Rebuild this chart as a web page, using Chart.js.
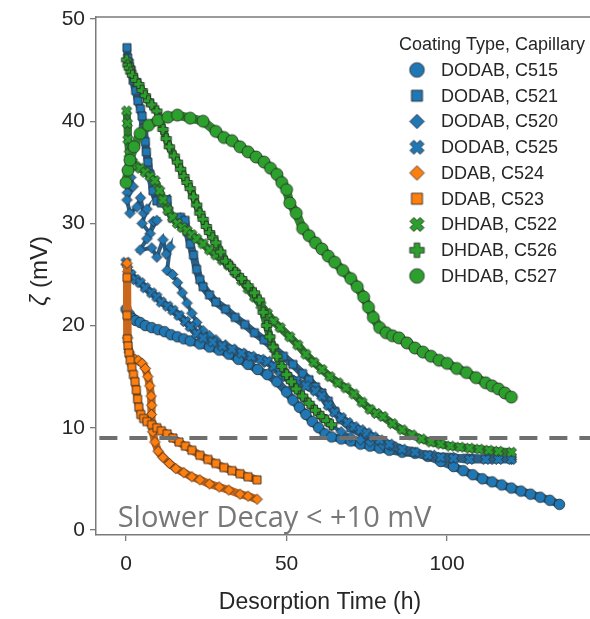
<!DOCTYPE html>
<html>
<head>
<meta charset="utf-8">
<script src="https://cdn.jsdelivr.net/npm/chart.js@4.4.1/dist/chart.umd.min.js"></script>
<style>
  html, body { margin: 0; padding: 0; background: #fff; }
  canvas { display: block; }
</style>
</head>
<body>
<canvas id="graficoZeta" width="590" height="619"></canvas>
<script>
// ========== DATOS (tiempo h, zeta mV) ==========
const etiquetas = [
  "DODAB, C515", "DODAB, C521", "DODAB, C520", "DODAB, C525",
  "DDAB, C524", "DDAB, C523", "DHDAB, C522", "DHDAB, C526", "DHDAB, C527"
];

const c515 = [[0,21.6],[1,21.1],[2,20.7],[3,20.5],[4.4,20.3],[6,20],[8,19.8],[10,19.6],[12,19.4],[14,19.1],[16,18.9],[18,18.7],[20,18.5],[23,18.2],[26,17.9],[29,17.6],[32,17.2],[35,16.7],[38,16.2],[41,15.7],[44,15.2],[47,14.5],[50,13.5],[52,12.7],[54,12],[56,11.3],[58,10.6],[60,10],[62,9.4],[64,9.1],[67,8.9],[70,8.7],[73,8.4],[76,8.2],[79,8],[82,7.8],[86,7.6],[90,7.5],[94,7.2],[98,6.7],[102,6.2],[105,5.8],[108,5.4],[111,5],[114,4.7],[117,4.4],[120,4.1],[123,3.8],[126,3.5],[129,3.2],[132,2.9],[135,2.5]];

const c521 = [[0.3,47.2],[0.5,46.2],[1,45.7],[1.6,45],[2.2,44],[3,43],[3.7,42],[4.5,41.2],[5,40.5],[5.5,39.3],[6,38],[6.3,37],[6.8,36],[7.5,34.8],[8.4,33.2],[9.6,32.2],[11,32],[12.8,32.3],[13.3,31.2],[14.5,30.5],[15.9,30.3],[17,30.6],[18.4,30.3],[19,29.2],[20,28],[21,26.9],[22,25.5],[23,24.5],[24,23.8],[26,23],[28,22.3],[31,21.6],[34,20.8],[37,20.1],[40,19.3],[43,18.6],[46,17.8],[49,17],[52,16.2],[55,15.3],[57,14.7],[59,14],[61,13.4],[63,12.6],[65,11.6],[67,10.8],[70,10],[74,9.3],[78,8.8],[83,8.2],[88,7.7],[94,7.3],[100,7.1],[106,7],[113,7],[120,7]];

const c520 = [[0,34.2],[0.4,33],[1.5,34.5],[2.2,33.6],[0.3,32.3],[1.2,31],[3.4,31.6],[4.5,32.5],[5.5,31],[6.5,31.4],[5,30],[7.5,29],[8.5,30.2],[9.6,30.3],[6.5,28.5],[4.4,27.4],[8,27.6],[9.6,26.7],[11.5,28.4],[12.5,27],[13.7,27.7],[12.8,25.4],[14.5,25],[16,24.2],[17.5,23.2],[19,22.2],[20.5,21.2],[22,20.3],[24,19.5],[26,19],[28,18.6],[31,18.1],[34,17.6],[37,17.2],[40,16.8],[43,16.4],[46,15.8],[49,15],[52,14],[55,13],[58,12],[61,11],[64,10.2],[67,9.6],[70,9.1],[73,8.8],[76,8.6],[80,8.3],[85,7.9],[90,7.6],[96,7.3],[102,7.1],[108,7],[114,6.9],[120,6.9]];

const c525 = [[0,26.2],[0.5,25.5],[1.5,25],[3,24.5],[4.4,24.2],[6,23.7],[8,23.2],[9.6,22.8],[11,22.3],[13,21.9],[14.6,21.5],[16.5,21],[18.5,20.4],[20,19.9],[22,19.2],[24,18.8],[27,18.4],[30,18],[33,17.7],[36,17.3],[39,17],[42,16.7],[44,16.5],[46,16],[48,15.5],[50,15.1],[53,14.6],[56,14.1],[59,13.6],[61,13.1],[63,12.2],[65,11.5],[67,11],[69,10.5],[71,10.1],[73,9.8],[75,9.5],[77,9.1],[79,8.8],[82,8.4],[86,7.9],[90,7.6],[94,7.3],[98,7.1],[102,7],[107,6.9],[112,6.9],[116,6.9],[120,6.9]];

const c524 = [[0.3,26.1],[0.5,18.8],[1,17.4],[1.8,16.9],[2.8,16.7],[3.8,16.6],[5,16.3],[6,15.8],[6.8,15],[7.4,14.1],[7.8,13.1],[8,12.2],[7.9,11.3],[8,10.4],[8.3,9.6],[9,8.6],[10,7.7],[11.5,7.1],[13.5,6.5],[15.5,6],[18,5.6],[20.5,5.2],[23,4.9],[26,4.5],[29,4.2],[32,3.9],[35.5,3.5],[38,3.3],[40.8,3]];

const c523 = [[0.3,24.7],[0.3,21],[0.4,18.7],[0.6,18],[0.9,17.3],[1.3,16.6],[1.8,15.9],[2.3,15.2],[2.8,14.5],[3.2,13.7],[3.6,12.8],[4,12],[4.6,11.3],[5.5,10.9],[6.5,10.6],[8,10.3],[9.6,10],[11,9.7],[12.8,9.4],[14.6,9],[16.5,8.6],[18.5,8.2],[20.5,7.8],[23,7.3],[25.5,6.9],[28,6.5],[30.5,6.1],[33,5.8],[35.5,5.5],[38,5.2],[40.8,4.9]];

const c522 = [[0.2,41],[0.4,39.8],[0.6,38.2],[1,36.8],[2,36],[3,35.6],[4.4,35.4],[6,35],[7.5,34.6],[9,34.2],[10.5,33.2],[11.5,32.3],[13,31.3],[14.5,30.6],[16,30],[17.5,29.6],[19,29.3],[20.5,28.9],[22,28.5],[24,28],[26,27.4],[28,26.9],[30,26.4],[32,25.9],[34,25.2],[36,24.4],[38,23.6],[40,22.8],[42,22],[44,21.2],[46,20.4],[48,19.8],[51,18.9],[53.5,18.1],[56,17.2],[58.5,16.4],[61,15.7],[63.5,15],[66,14.4],[68.5,13.9],[71,13.3],[73.5,12.5],[76,11.8],[78,11.4],[80,11.1],[83,10.4],[86,9.8],[89,9.3],[92,8.9],[95,8.6],[98,8.4],[101,8.2],[104,8.1],[107,8],[110,7.9],[113,7.8],[116,7.7],[120,7.6]];

const c526 = [[0.2,46],[0.6,45.5],[1,45.2],[1.5,44.8],[2,44.5],[3,44],[4,43.6],[5,43],[6,42.5],[7,42],[8,41.6],[9.6,41],[10.5,40.2],[11.5,39.2],[12.5,38.3],[13.5,37.5],[15,36.6],[16,36],[17,35.3],[18,34.6],[19,34],[20,33.4],[21,32.6],[22,31.8],[23,31],[24,30.4],[25,29.7],[26,29.1],[27,28.6],[28,28.1],[29.5,27.2],[31,26.3],[32.5,25.8],[34,25.2],[36,24.6],[38,23.9],[40,23.2],[41.5,22.5],[42.7,21.3],[43.8,20],[44.8,18.9],[45.8,17.9],[47,17],[48.5,16],[50,15.2],[51.5,14.5],[53,13.8],[55,13.1],[57,12.4],[59,11.7],[61,11.1],[62.5,10.7],[64,10.3]];

const c527 = [[0,34],[0.6,35.2],[1.2,36.2],[2.5,37.5],[4.4,38.8],[7,39.6],[10,40.1],[13,40.4],[16,40.6],[20,40.3],[24,40],[28,39],[30.5,38.4],[33,38.1],[35.5,37.5],[38,37],[40.5,36.5],[43,36],[45,35.4],[47,34.8],[48.5,34],[50,33.3],[51,32],[53,31],[55,29.5],[57,28.8],[59,28.1],[61,27.5],[63,26.8],[65,26.2],[67.5,25.4],[70,24.6],[72,23.8],[74,22.8],[75.5,21.8],[77,20.8],[79,19.8],[81,19.3],[83,19],[85,18.8],[87.5,18.3],[90,17.8],[92.5,17.4],[95,17],[97.5,16.6],[100,16.3],[103,15.8],[106,15.4],[109,14.9],[112,14.4],[114,14.1],[116,13.8],[118,13.4],[120,13]];

const series = [c515, c521, c520, c525, c524, c523, c522, c526, c527];
const formas = ["circle", "square", "diamond", "x", "diamond", "square", "x", "plus", "circle"];
const colores = ["#1f77b4", "#1f77b4", "#1f77b4", "#1f77b4", "#ff7f0e", "#ff7f0e", "#2ca02c", "#2ca02c", "#2ca02c"];
const coloresBanda = ["#2c5f86", "#2c5f86", "#2c5f86", "#2c5f86", "#c9681c", "#c9681c", "#2f782f", "#2f782f", "#2f872f"];
const grosorBanda = [8, 8, 4, 8, 8, 8, 8, 8, 9];
const tamMarcador = [10.5, 9.5, 10.5, 10.5, 10.5, 9.5, 10.5, 10.5, 12];

const limite = [[-8.3, 9], [146, 9]];
const ticksY = [0, 10, 20, 30, 40, 50];

// ========== MARCADORES ==========
function crearMarcador(forma, relleno, tam) {
  const pad = 3;
  const c = document.createElement("canvas");
  c.width = c.height = Math.ceil(tam + pad * 2);
  const g = c.getContext("2d");
  const m = c.width / 2, r = tam / 2;
  g.beginPath();
  if (forma === "circle") {
    g.arc(m, m, r, 0, Math.PI * 2);
  } else if (forma === "square") {
    g.rect(m - r * 0.85, m - r * 0.85, r * 1.7, r * 1.7);
  } else if (forma === "diamond") {
    g.moveTo(m, m - r); g.lineTo(m + r, m); g.lineTo(m, m + r); g.lineTo(m - r, m); g.closePath();
  } else {
    const w = r * 0.38;
    const pts = [[-w,-r],[w,-r],[w,-w],[r,-w],[r,w],[w,w],[w,r],[-w,r],[-w,w],[-r,w],[-r,-w],[-w,-w]];
    const a = forma === "x" ? Math.PI / 4 : 0;
    pts.forEach(([px, py], i) => {
      const X = m + px * Math.cos(a) - py * Math.sin(a);
      const Y = m + px * Math.sin(a) + py * Math.cos(a);
      if (i) g.lineTo(X, Y); else g.moveTo(X, Y);
    });
    g.closePath();
  }
  g.fillStyle = relleno;
  g.fill();
  g.lineWidth = 1;
  g.strokeStyle = "rgba(45,45,45,0.85)";
  g.stroke();
  return c;
}

const marcadores = formas.map((f, i) => crearMarcador(f, colores[i], tamMarcador[i]));
const marcadoresLeyenda = formas.map((f, i) => crearMarcador(f, colores[i], f === "square" ? 13 : 14.5));

// ========== PLUGINS ==========
const marcoYTexto = {
  id: "marcoYTexto",
  afterDatasetsDraw(chart) {
    const { ctx, chartArea, scales } = chart;
    ctx.save();
    ctx.strokeStyle = "#7a7a7a";
    ctx.lineWidth = 1.5;
    ctx.beginPath();
    ctx.moveTo(chartArea.left, chartArea.top);
    ctx.lineTo(chartArea.right, chartArea.top);
    ctx.stroke();

    ctx.font = '29px "Open Sans", sans-serif';
    ctx.fillStyle = "#777777";
    ctx.textAlign = "left";
    ctx.textBaseline = "alphabetic";
    ctx.fillText("Slower Decay < +10 mV", scales.x.getPixelForValue(-2.6), scales.y.getPixelForValue(0.3));

    // titulo del eje x (centrado como en la figura original)
    ctx.font = '23px "Liberation Sans", Arial, sans-serif';
    ctx.fillStyle = "#262626";
    ctx.textAlign = "center";
    ctx.textBaseline = "middle";
    ctx.fillText("Desorption Time (h)", 320, 603);

    // titulo del eje y, zeta en cursiva
    const fNormal = '24px "Liberation Sans", Arial, sans-serif';
    const fCursiva = 'italic 24px "Liberation Sans", Arial, sans-serif';
    ctx.font = fCursiva;
    const a1 = ctx.measureText("ζ").width;
    ctx.font = fNormal;
    const a2 = ctx.measureText(" (mV)").width;
    ctx.translate(40, 271);
    ctx.rotate(-Math.PI / 2);
    ctx.textAlign = "left";
    ctx.font = fCursiva;
    ctx.fillText("ζ", -(a1 + a2) / 2, 0);
    ctx.font = fNormal;
    ctx.fillText(" (mV)", -(a1 + a2) / 2 + a1, 0);
    ctx.restore();
  }
};

const leyenda = {
  id: "leyenda",
  afterDraw(chart) {
    const ctx = chart.ctx;
    ctx.save();
    ctx.fillStyle = "#262626";
    ctx.textBaseline = "middle";
    ctx.font = '18px "Liberation Sans", Arial, sans-serif';
    ctx.textAlign = "center";
    ctx.fillText("Coating Type, Capillary", 492, 45);
    ctx.textAlign = "left";
    etiquetas.forEach((txt, i) => {
      const y = 70 + i * 25.75;
      const mk = marcadoresLeyenda[i];
      ctx.drawImage(mk, 417 - mk.width / 2, y - mk.height / 2);
      ctx.fillText(txt, 441, y + 1);
    });
    ctx.restore();
  }
};

// ========== GRAFICO ==========
const conjuntos = series.map((datos, i) => ({
  label: etiquetas[i],
  data: datos,
  showLine: true,
  borderColor: coloresBanda[i],
  borderWidth: grosorBanda[i],
  backgroundColor: colores[i],
  pointStyle: marcadores[i],
  pointRadius: 5,
  tension: 0,
  order: series.length - i
}));

conjuntos.push({
  label: "limite",
  data: limite,
  showLine: true,
  borderColor: "#6f6f6f",
  borderWidth: 4,
  borderDash: [18, 12],
  pointRadius: 0,
  order: 0
});

const fuenteEje = { family: '"Liberation Sans", Arial, sans-serif', size: 21 };

new Chart(document.getElementById("graficoZeta"), {
  type: "scatter",
  data: { datasets: conjuntos },
  options: {
    responsive: false,
    animation: false,
    devicePixelRatio: 1,
    layout: { autoPadding: false, padding: { top: 17, right: 0, left: 0, bottom: 0 } },
    plugins: { legend: { display: false }, tooltip: { enabled: false } },
    scales: {
      x: {
        type: "linear",
        min: -9.35,
        max: 144.5,
        afterFit(s) { s.height = 84; s.paddingLeft = 0; s.paddingRight = 0; },
        border: { color: "#7a7a7a", width: 1.5 },
        grid: { drawOnChartArea: false, drawTicks: true, tickLength: 6, color: "#7a7a7a", lineWidth: 1.3 },
        ticks: { stepSize: 50, includeBounds: false, padding: 11, color: "#262626", font: fuenteEje },
        title: { display: false }
      },
      y: {
        type: "linear",
        min: -0.5,
        max: 50.2,
        afterFit(s) { s.width = 96; s.paddingTop = 0; s.paddingBottom = 0; },
        afterBuildTicks(s) { s.ticks = ticksY.map(v => ({ value: v })); },
        border: { color: "#7a7a7a", width: 1.5 },
        grid: { drawOnChartArea: false, drawTicks: true, tickLength: 6, color: "#7a7a7a", lineWidth: 1.3 },
        ticks: { padding: 5, color: "#262626", font: fuenteEje },
        title: { display: false }
      }
    }
  },
  plugins: [marcoYTexto, leyenda]
});
</script>
</body>
</html>
